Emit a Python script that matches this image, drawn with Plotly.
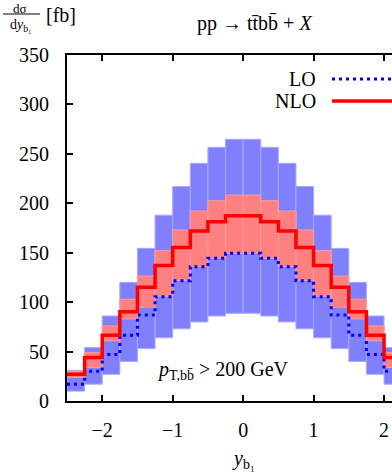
import numpy as np
import plotly.graph_objects as go

# bin edges of y_b1 (20 bins of width 0.25)
bin_lo = [-2.5, -2.25, -2.0, -1.75, -1.5, -1.25, -1.0, -0.75, -0.5, -0.25,
          0.0, 0.25, 0.5, 0.75, 1.0, 1.25, 1.5, 1.75, 2.0, 2.25]
bin_width = 0.25

lo_central = [17, 30, 47, 66.5, 87, 105.5, 121.7, 135.9, 144.3, 149.4,
              149.4, 144.3, 135.9, 121.7, 105.5, 87, 66.5, 47, 30, 17]
lo_upper = [31, 54, 86, 120, 154.4, 188, 217, 240.4, 256.6, 264.7,
            264.7, 256.6, 240.4, 217, 188, 154.4, 120, 86, 54, 31]
lo_lower = [10, 17, 27, 40, 53, 64, 73, 80, 86, 88.7,
            88.7, 86, 80, 73, 64, 53, 40, 27, 17, 10]

nlo_central = [27, 44, 66.5, 90.3, 115, 137, 155.4, 172, 181.4, 187.5,
               187.5, 181.4, 172, 155.4, 137, 115, 90.3, 66.5, 44, 27]
nlo_upper = [30, 49, 76, 103, 126.4, 152, 173, 192.2, 202.6, 208.4,
             208.4, 202.6, 192.2, 173, 152, 126.4, 103, 76, 49, 30]
nlo_lower = [24, 34, 61, 83, 95, 106, 122, 136, 144.5, 149.5,
             149.5, 144.5, 136, 122, 106, 95, 83, 61, 34, 24]

y_ticks = [0, 50, 100, 150, 200, 250, 300, 350]
x_ticks = [-2, -1, 0, 1, 2]

centers = [b + bin_width / 2 for b in bin_lo]
edges = bin_lo + [bin_lo[-1] + bin_width]

FONT = "Liberation Serif"
fig = go.Figure()

fig.add_trace(go.Bar(
    x=centers, y=[u - l for u, l in zip(lo_upper, lo_lower)], base=lo_lower,
    width=bin_width, marker=dict(color="#8080ff", line=dict(color="#a8a8ff", width=1)),
    showlegend=False, hoverinfo="skip"))
fig.add_trace(go.Bar(
    x=centers, y=[u - l for u, l in zip(nlo_upper, nlo_lower)], base=nlo_lower,
    width=bin_width, marker=dict(color="#ff8080", line=dict(color="#ff9a9a", width=1)),
    showlegend=False, hoverinfo="skip"))

fig.add_trace(go.Scatter(
    x=edges, y=lo_central + [lo_central[-1]], mode="lines",
    line=dict(color="#0000ff", width=3, dash="3px,4px", shape="hv"),
    showlegend=False, hoverinfo="skip"))
fig.add_trace(go.Scatter(
    x=edges, y=nlo_central + [nlo_central[-1]], mode="lines",
    line=dict(color="#ff0000", width=3.5, shape="hv"),
    showlegend=False, hoverinfo="skip"))

W, H = 392, 473
L, T, B, R = 67, 55, 72, 0
fig.update_layout(
    width=W, height=H, margin=dict(l=L, r=R, t=T, b=B, autoexpand=False),
    plot_bgcolor="white", paper_bgcolor="white",
    barmode="overlay", bargap=0,
    font=dict(family=FONT, size=20, color="black"),
    xaxis=dict(range=[-2.5, 2.113], tickvals=x_ticks,
               ticktext=["−2", "−1", "0", "1", "2"], automargin=False,
               showgrid=False, zeroline=False, showline=True, linecolor="black",
               linewidth=2, mirror="ticks", ticks="inside", ticklen=6, tickwidth=2,
               tickcolor="black", ticklabelstandoff=10, fixedrange=True),
    yaxis=dict(range=[0, 350], tickvals=y_ticks, showgrid=False, zeroline=False,
               automargin=False,
               showline=True, linecolor="black", linewidth=2, ticks="inside",
               ticklen=6, tickwidth=2, tickcolor="black", ticklabelstandoff=12,
               fixedrange=True),
)

def px2paper_x(px):
    return (px - L) / (W - L - R)

def px2paper_y(py):
    return (H - B - py) / (H - T - B)

ann = []
ann.append(dict(x=px2paper_x(254), y=px2paper_y(24), xref="paper", yref="paper",
                text="pp → tt̄bb̄ + <i>X</i>", showarrow=False,
                font=dict(size=20), xanchor="center", yanchor="middle"))
ann.append(dict(x=px2paper_x(20), y=px2paper_y(0), xref="paper", yref="paper",
                text="dσ", showarrow=False, font=dict(size=13),
                xanchor="center", yanchor="top", borderpad=0))
ann.append(dict(x=px2paper_x(21), y=px2paper_y(25), xref="paper", yref="paper",
                text="d<i>y</i><sub>b₁</sub>", showarrow=False, font=dict(size=14),
                xanchor="center", yanchor="middle"))
ann.append(dict(x=px2paper_x(44), y=px2paper_y(15), xref="paper", yref="paper",
                text="[fb]", showarrow=False, font=dict(size=20),
                xanchor="left", yanchor="middle"))
ann.append(dict(x=px2paper_x(243), y=px2paper_y(459), xref="paper", yref="paper",
                text="<i>y</i><sub>b₁</sub>", showarrow=False, font=dict(size=20),
                xanchor="center", yanchor="middle"))
ann.append(dict(x=px2paper_x(155), y=px2paper_y(370), xref="paper", yref="paper",
                text="<i>p</i><sub>T,bb̄</sub> > 200 GeV", showarrow=False,
                font=dict(size=20), xanchor="left", yanchor="middle"))
ann.append(dict(x=px2paper_x(318), y=px2paper_y(79), xref="paper", yref="paper",
                text="LO", showarrow=False, font=dict(size=20),
                xanchor="right", yanchor="middle"))
ann.append(dict(x=px2paper_x(318), y=px2paper_y(101), xref="paper", yref="paper",
                text="NLO", showarrow=False, font=dict(size=20),
                xanchor="right", yanchor="middle"))
fig.update_layout(annotations=ann)

shapes = [
    dict(type="line", xref="paper", yref="paper", x0=px2paper_x(3), x1=px2paper_x(40),
         y0=px2paper_y(14), y1=px2paper_y(14), line=dict(color="black", width=1)),
    dict(type="line", xref="paper", yref="paper", x0=px2paper_x(332), x1=px2paper_x(400),
         y0=px2paper_y(79), y1=px2paper_y(79),
         line=dict(color="#0000ff", width=3, dash="3px,4px")),
    dict(type="line", xref="paper", yref="paper", x0=px2paper_x(332), x1=px2paper_x(400),
         y0=px2paper_y(101), y1=px2paper_y(101),
         line=dict(color="#ff0000", width=3.5)),
]
fig.update_layout(shapes=shapes)

fig.write_html("out.html", config={"displayModeBar": False, "staticPlot": True},
               post_script="document.body.style.margin='0';document.body.style.overflow='hidden';")
